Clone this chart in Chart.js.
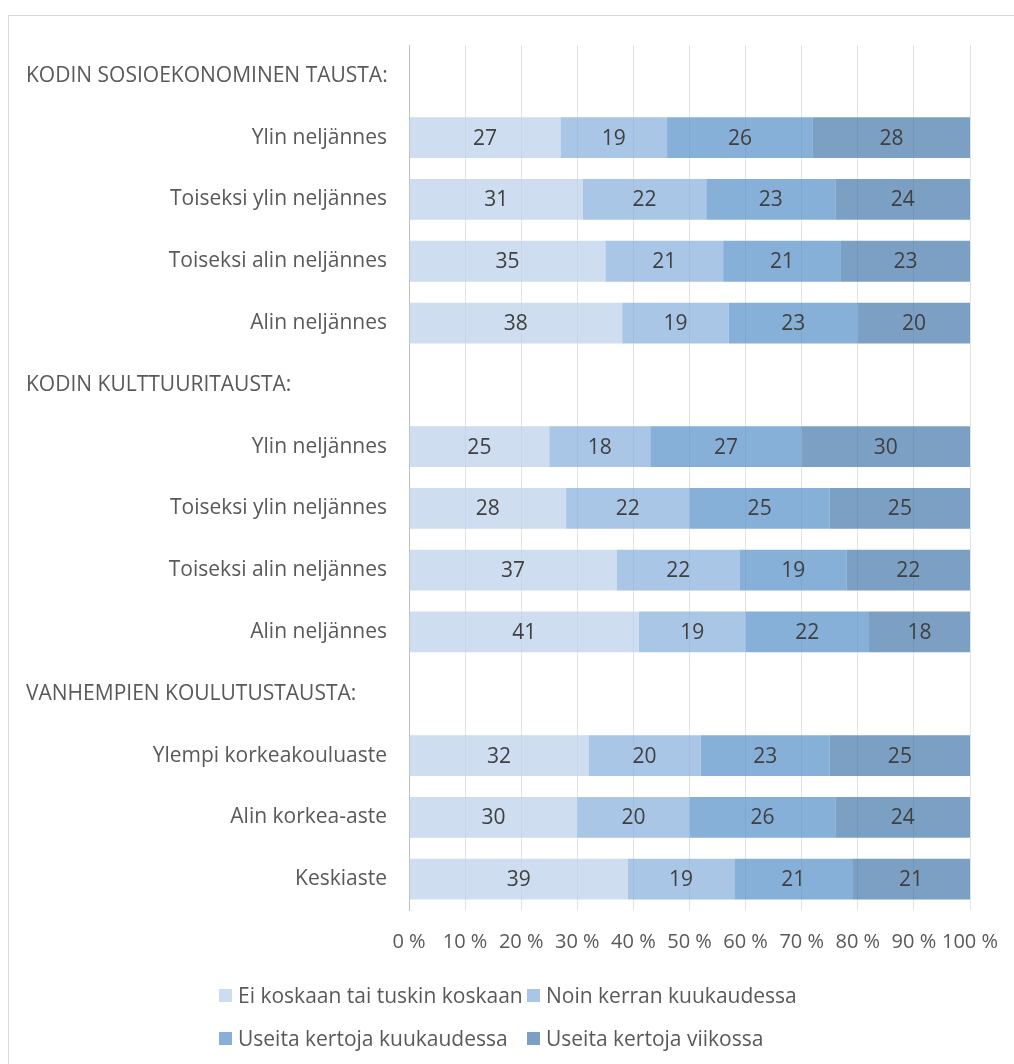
<!DOCTYPE html>
<html>
<head>
<meta charset="utf-8">
<script src="https://cdn.jsdelivr.net/npm/chart.js@4"></script>
<style>
  body { margin: 0; background: #fff; font-family: "Open Sans", sans-serif; }
  #wrap { position: relative; width: 1014px; height: 1064px; overflow: hidden; }
  #frame { position: absolute; left: 8px; top: 15px; width: 1040px; height: 1080px; border: 1px solid #d9d9d9; }
  #chart-box { position: absolute; left: 0; top: 0; width: 1014px; height: 1064px; }
  #legend { position: absolute; left: 219px; top: 981px; display: grid; grid-template-columns: 308px 300px; row-gap: 15px; }
  .item { display: flex; align-items: center; font-size: 21px; color: #595959; white-space: nowrap; height: 28px; }
  .box { width: 13px; height: 13px; margin-right: 6px; }
</style>
</head>
<body>
<div id="wrap">
  <div id="frame"></div>
  <div id="chart-box"><canvas id="chart"></canvas></div>
  <div id="legend"></div>
</div>
<script>
// categories, top to bottom (group headings have no bars)
const categories = [
  "KODIN SOSIOEKONOMINEN TAUSTA:",
  "Ylin neljännes",
  "Toiseksi ylin neljännes",
  "Toiseksi alin neljännes",
  "Alin neljännes",
  "KODIN KULTTUURITAUSTA:",
  "Ylin neljännes",
  "Toiseksi ylin neljännes",
  "Toiseksi alin neljännes",
  "Alin neljännes",
  "VANHEMPIEN KOULUTUSTAUSTA:",
  "Ylempi korkeakouluaste",
  "Alin korkea-aste",
  "Keskiaste",
];
const headerRows = [0, 5, 10];

const seriesNames = [
  "Ei koskaan tai tuskin koskaan",
  "Noin kerran kuukaudessa",
  "Useita kertoja kuukaudessa",
  "Useita kertoja viikossa",
];
const eiKoskaan  = [null, 27, 31, 35, 38, null, 25, 28, 37, 41, null, 32, 30, 39];
const kerranKk   = [null, 19, 22, 21, 19, null, 18, 22, 22, 19, null, 20, 20, 19];
const useitaKk   = [null, 26, 23, 21, 23, null, 27, 25, 19, 22, null, 23, 26, 21];
const useitaVk   = [null, 28, 24, 23, 20, null, 30, 25, 22, 18, null, 25, 24, 21];
const tickLabels = ["0 %", "10 %", "20 %", "30 %", "40 %", "50 %", "60 %", "70 %", "80 %", "90 %", "100 %"];

const colors = [
  "rgba(185, 206, 232, 0.7)",
  "rgba(132, 174, 219, 0.7)",
  "rgba(84, 142, 199, 0.7)",
  "rgba(67, 119, 171, 0.7)",
];
const legendColors = ["#cedcef", "#a9c6e6", "#87b0d8", "#7ba0c4"];

const FONT = '"Open Sans", sans-serif';

// headings drawn left aligned, values drawn inside bars
const labelsPlugin = {
  id: "labelsPlugin",
  afterDraw(chart) {
    const ctx = chart.ctx;
    const yScale = chart.scales.y;
    ctx.save();
    ctx.font = "21px " + FONT;
    ctx.fillStyle = "#595959";
    ctx.textBaseline = "middle";
    ctx.textAlign = "left";
    headerRows.forEach((i) => {
      ctx.fillText(categories[i], 26, yScale.getPixelForValue(i));
    });
    ctx.fillStyle = "#404040";
    ctx.textAlign = "center";
    chart.data.datasets.forEach((ds, di) => {
      const meta = chart.getDatasetMeta(di);
      meta.data.forEach((bar, i) => {
        if (ds.data[i] == null) return;
        ctx.fillText(String(ds.data[i]), (bar.x + bar.base) / 2, bar.y + 1);
      });
    });
    ctx.restore();
  },
};

const ctx = document.getElementById("chart").getContext("2d");
const chart = new Chart(ctx, {
  type: "bar",
  data: {
    labels: categories,
    datasets: [eiKoskaan, kerranKk, useitaKk, useitaVk].map((d, i) => ({
      label: seriesNames[i],
      data: d,
      backgroundColor: colors[i],
      borderWidth: 0,
      categoryPercentage: 1,
      barPercentage: 0.66,
    })),
  },
  options: {
    indexAxis: "y",
    responsive: true,
    maintainAspectRatio: false,
    animation: false,
    layout: { padding: { left: 0, top: 45, right: 44, bottom: 104 } },
    plugins: {
      legend: { display: false },
      tooltip: { enabled: false },
    },
    scales: {
      x: {
        stacked: true,
        min: 0,
        max: 100,
        afterFit: (s) => { s.height = 50; s.paddingLeft = 0; s.paddingRight = 0; },
        grid: { color: "#e3e3e3", drawTicks: false },
        border: { display: false },
        ticks: {
          stepSize: 10,
          padding: 20,
          maxRotation: 0,
          autoSkip: false,
          color: "#595959",
          font: { family: FONT, size: 20 },
          callback: (v, i) => tickLabels[i],
        },
      },
      y: {
        stacked: true,
        afterFit: (s) => { s.width = 409; },
        grid: { display: false, drawTicks: false },
        border: { display: true, color: "#bfbfbf", width: 1 },
        ticks: {
          padding: 22,
          color: "#595959",
          font: { family: FONT, size: 21 },
          callback: (v, i) => (headerRows.includes(i) ? "" : categories[i]),
        },
      },
    },
  },
  plugins: [labelsPlugin],
});

// legend in two rows like the original
const legend = document.getElementById("legend");
seriesNames.forEach((name, i) => {
  const item = document.createElement("div");
  item.className = "item";
  item.innerHTML = '<span class="box" style="background:' + legendColors[i] + '"></span>' + name;
  legend.appendChild(item);
});
</script>
</body>
</html>
